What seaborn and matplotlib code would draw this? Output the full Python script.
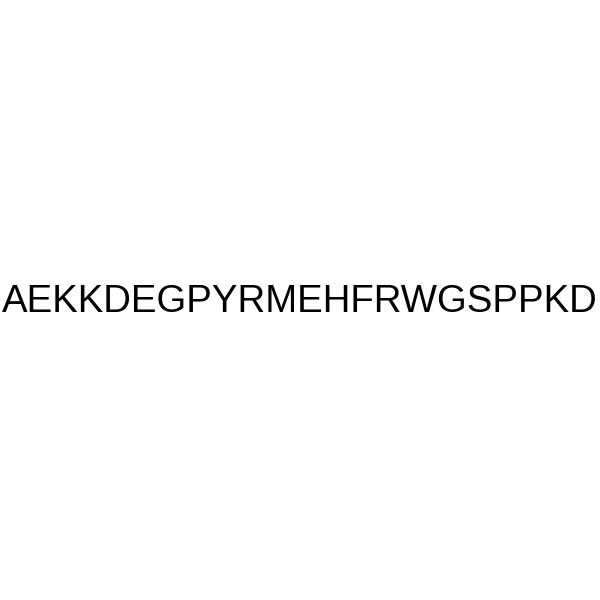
import matplotlib
matplotlib.use("Agg")
import matplotlib.pyplot as plt
import seaborn as sns

sns.set_theme(style="white")
plt.rcParams['font.family'] = ['Liberation Sans', 'DejaVu Sans']

sequence = "AEKKDEGPYRMEHFRWGSPPKD"

fig = plt.figure(figsize=(6, 6), dpi=100)
ax = fig.add_axes([0, 0, 1, 1])
ax.set_xlim(0, 1)
ax.set_ylim(0, 1)
ax.axis("off")
ax.text(0.4995, 0.497, sequence, ha="center", va="center",
        fontsize=27.6, color="black")
fig.savefig("out.png", dpi=100, facecolor="white")
